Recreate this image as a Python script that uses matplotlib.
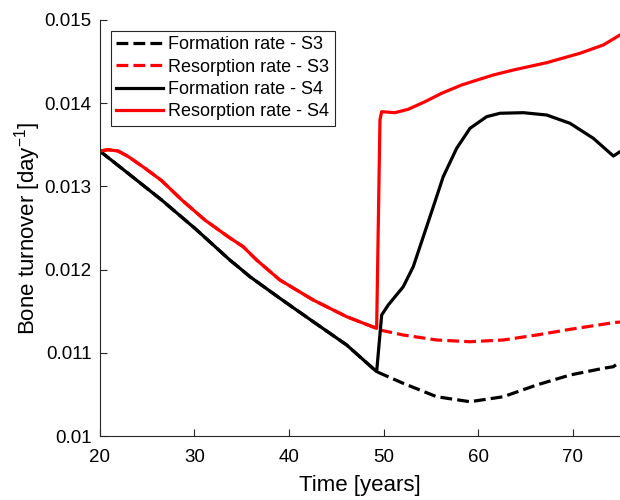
import matplotlib.pyplot as plt

plt.rcParams['font.family'] = ['Liberation Sans', 'DejaVu Sans']

# common part before the switch (S3 and S4 overlap here)
t_form_pre = [20, 22.99, 26.53, 30.05, 33.75, 34.81, 35.87, 39.04, 42.56, 46.10, 49.27]
form_pre = [0.013425, 0.013157, 0.012837, 0.012496, 0.012115, 0.012016, 0.011915,
            0.011655, 0.011374, 0.011094, 0.010773]
t_res_pre = [20, 20.88, 21.94, 22.99, 24.76, 26.53, 28.64, 31.11, 33.57, 35.16, 36.58, 39.04,
             42.56, 46.10, 49.27]
res_pre = [0.013425, 0.013441, 0.013425, 0.01336, 0.01322, 0.01307, 0.01284, 0.012596, 0.012395,
           0.012275, 0.012115, 0.011875, 0.011635, 0.011434, 0.011294]

# S3 after the switch
t_s3 = [52.08, 55.62, 59.14, 62.66, 66.19, 69.72, 73.24, 74.30, 75.0]
form_s3 = [0.010633, 0.010472, 0.010412, 0.010472, 0.010613, 0.010733, 0.010814, 0.010833, 0.010893]
t_s3r = [49.62, 52.08, 55.62, 59.14, 62.66, 66.19, 69.72, 74.30, 75.0]
res_s3 = [0.011274, 0.011214, 0.011154, 0.011133, 0.011154, 0.011214, 0.011282, 0.011362, 0.01137]

# S4 after the switch
t_s4f = [49.80, 50.5, 52.08, 53.14, 54.20, 55.26, 56.31, 57.73, 59.14, 60.90, 62.31,
         64.78, 67.25, 69.72, 72.18, 74.30, 75.0]
form_s4 = [0.011454, 0.011575, 0.011794, 0.012035, 0.012395, 0.012756, 0.013117, 0.013458,
           0.013698, 0.013838, 0.013879, 0.013886, 0.013858, 0.013758, 0.013578, 0.013365, 0.013417]
t_s4r = [49.62, 49.80, 51.20, 52.61, 54.38, 56.14, 58.26, 59.67, 61.60, 63.72, 67.25, 70.77,
         73.24, 75.0]
res_s4 = [0.01380, 0.013898, 0.013886, 0.013927, 0.014018, 0.014119, 0.014219, 0.01427,
          0.014339, 0.014399, 0.014487, 0.0146, 0.0147, 0.01482]

fig = plt.figure(figsize=(6.2, 5), dpi=100)
ax = fig.add_axes([0.161, 0.128, 0.839, 0.832])

lw = 2.3
ax.plot(t_form_pre + t_s3, form_pre + form_s3, 'k--', lw=lw, label='Formation rate - S3')
ax.plot(t_res_pre + t_s3r, res_pre + res_s3, 'r--', lw=lw, label='Resorption rate - S3')
ax.plot(t_form_pre + t_s4f, form_pre + form_s4, 'k-', lw=lw, label='Formation rate - S4')
ax.plot(t_res_pre + t_s4r, res_pre + res_s4, 'r-', lw=lw, label='Resorption rate - S4')

ax.set_xlim(20, 75)
ax.set_ylim(0.01, 0.015)
ax.set_xticks([20, 30, 40, 50, 60, 70])
ax.set_yticks([0.01, 0.011, 0.012, 0.013, 0.014, 0.015])
ax.set_yticklabels(['0.01', '0.011', '0.012', '0.013', '0.014', '0.015'])
for s in ['top', 'right']:
    ax.spines[s].set_visible(False)
for s in ['left', 'bottom']:
    ax.spines[s].set_color('#262626')
ax.tick_params(axis='x', pad=9)
ax.tick_params(axis='y', pad=6)
ax.tick_params(direction='in', length=5, labelsize=13.5, colors='#262626', labelcolor='black')
ax.set_xlabel('Time [years]', fontsize=16, labelpad=7)
ax.set_ylabel('Bone turnover [day$^{\\mathregular{-1}}$]', fontsize=16, labelpad=1)

leg = ax.legend(loc='upper left', fontsize=13, fancybox=False, framealpha=1,
                edgecolor='#262626', handlelength=2.6, borderaxespad=0.6,
                labelspacing=0.3, handletextpad=0.3, borderpad=0.3)
leg.get_frame().set_linewidth(0.8)

fig.savefig('out.png', dpi=100)
